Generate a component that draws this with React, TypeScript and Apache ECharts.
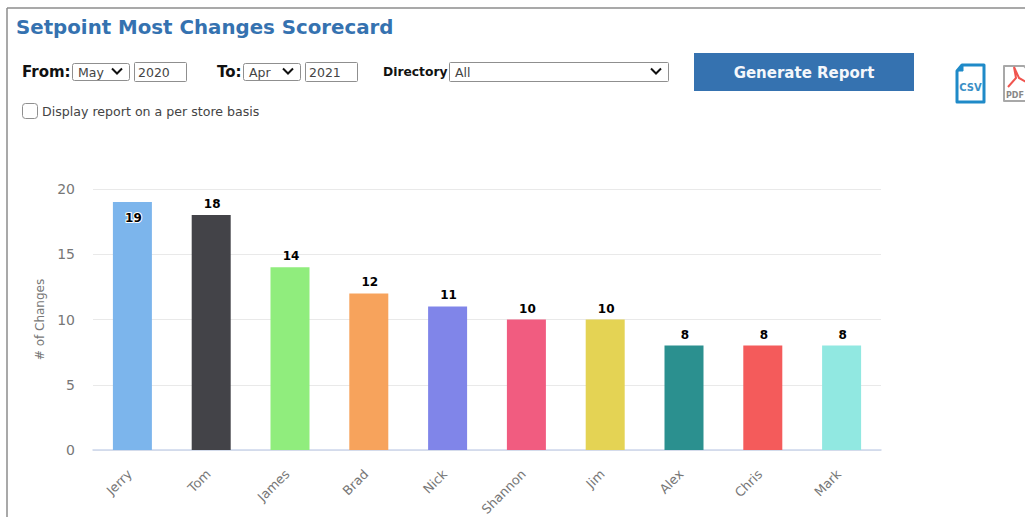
import React, { useEffect, useRef } from "react";
import * as echarts from "echarts";

const categories = ["Jerry", "Tom", "James", "Brad", "Nick", "Shannon", "Jim", "Alex", "Chris", "Mark"];
const changes = [19, 18, 14, 12, 11, 10, 10, 8, 8, 8];
const barColors = ["#7cb5ec", "#434348", "#90ed7d", "#f7a35c", "#8085e9", "#f15c80", "#e4d354", "#2b908f", "#f45b5b", "#91e8e1"];
const yTicks = { min: 0, max: 20, interval: 5 };

const FONT = "DejaVu Sans";
const BLUE = "#3572b0";

const txt = (x: number, y: number, text: string, font: number, weight: string | number, fill: string, extra: any = {}) => ({
  type: "text", x, y, silent: true,
  style: { text, fontSize: font, fontWeight: weight, fontFamily: FONT, fill, textVerticalAlign: "middle", verticalAlign: "middle", ...extra },
});
const box = (x: number, y: number, w: number, h: number, r = 2) => ({
  type: "rect", shape: { x: x + 0.5, y: y + 0.5, width: w, height: h, r }, silent: true,
  style: { fill: "#fff", stroke: "#8f8f8f", lineWidth: 1 },
});
const chevron = (cx: number, cy: number) => ({
  type: "polyline", silent: true,
  shape: { points: [[cx - 5, cy - 2.5], [cx, cy + 2.5], [cx + 5, cy - 2.5]] },
  style: { stroke: "#111", lineWidth: 2, fill: "none" },
});

export default function App() {
  const ref = useRef<HTMLDivElement>(null);
  useEffect(() => {
    document.body.style.margin = "0";
    const chart = echarts.init(ref.current!, null, { renderer: "svg" });
    chart.setOption({
      animation: false,
      backgroundColor: "#fff",
      grid: { left: 93, right: 144, top: 189, bottom: 67, outerBoundsMode: "none" },
      xAxis: {
        type: "category",
        data: categories,
        axisLine: { lineStyle: { color: "#ccd6eb", width: 1.5 } },
        axisTick: { show: false },
        axisLabel: { rotate: 45, color: "#777", fontSize: 12.8, fontFamily: FONT, margin: 19, padding: [0, 4, 0, 0], interval: 0 },
      },
      yAxis: {
        type: "value",
        ...yTicks,
        name: "# of Changes",
        nameLocation: "middle",
        nameGap: 47,
        nameTextStyle: { color: "#777", fontSize: 12, fontFamily: FONT },
        axisLine: { show: false },
        axisTick: { show: false },
        axisLabel: { color: "#777", fontSize: 14, fontFamily: FONT, margin: 18 },
        splitLine: { lineStyle: { color: "#e9e9e9", width: 1 } },
      },
      series: [
        {
          type: "bar",
          barWidth: 39,
          data: changes.map((v, i) => ({
            value: v,
            itemStyle: { color: barColors[i] },
            label: i === 0
              ? { position: "insideTop", distance: 10, textBorderColor: "#fff", textBorderWidth: 2 }
              : { position: "top", distance: 5 },
          })),
          label: { show: true, color: "#000", fontSize: 12, fontWeight: "bold", fontFamily: FONT, offset: [1, 0] },
        },
      ],
      graphic: {
        elements: [
          { type: "line", silent: true, shape: { x1: 7, y1: 8, x2: 1025, y2: 8 }, style: { stroke: "#8c8c8c", lineWidth: 1.5 } },
          { type: "line", silent: true, shape: { x1: 7, y1: 8, x2: 7, y2: 517 }, style: { stroke: "#8c8c8c", lineWidth: 1.5 } },
          txt(16, 27, "Setpoint Most Changes Scorecard", 19.8, "bold", BLUE),
          txt(22, 72, "From:", 15, "bold", "#111"),
          box(72, 63, 57, 17),
          txt(78, 72, "May", 12.5, "normal", "#444"),
          chevron(117, 71),
          box(134, 62, 52, 19, 1),
          txt(138, 72, "2020", 12.5, "normal", "#444"),
          txt(217, 72, "To:", 15, "bold", "#111"),
          box(243, 63, 57, 17),
          txt(249, 72, "Apr", 12.5, "normal", "#444"),
          chevron(288, 71),
          box(305, 62, 52, 19, 1),
          txt(309, 72, "2021", 12.5, "normal", "#444"),
          txt(383, 72, "Directory", 12.3, "bold", "#111"),
          box(449, 62, 219, 19, 1),
          txt(455, 72, "All", 12.5, "normal", "#444"),
          chevron(656, 71),
          { type: "rect", silent: true, shape: { x: 694, y: 53, width: 220, height: 38 }, style: { fill: BLUE } },
          txt(804, 73, "Generate Report", 15, "bold", "#f4f7fb", { textAlign: "center", align: "center" }),
          box(22, 103, 15, 15, 3),
          txt(42, 111, "Display report on a per store basis", 12.6, "normal", "#444"),
          // CSV icon
          { type: "polygon", silent: true, shape: { points: [[962, 65], [984, 65], [984, 102], [957, 102], [957, 71]] }, style: { fill: "#fff", stroke: "#1f8ac8", lineWidth: 3, lineJoin: "round" } },
          { type: "polygon", silent: true, shape: { points: [[957, 71], [963, 71], [963, 65]] }, style: { fill: "#1f8ac8", stroke: "#1f8ac8", lineWidth: 1 } },
          txt(970.5, 87, "CSV", 10, "bold", "#3a8fc6", { textAlign: "center", align: "center" }),
          // PDF icon
          { type: "polygon", silent: true, shape: { points: [[1004, 66], [1024, 66], [1030, 72], [1030, 101], [1004, 101]] }, style: { fill: "#fff", stroke: "#a8a8a8", lineWidth: 2, lineJoin: "round" } },
          { type: "polyline", silent: true, shape: { points: [[1008, 87], [1016, 78], [1014, 67], [1019, 78], [1030, 84]] }, style: { fill: "none", stroke: "#f0554f", lineWidth: 2 } },
          txt(1006, 95, "PDF", 8, "bold", "#888"),
        ],
      },
    });
    return () => chart.dispose();
  }, []);
  return <div ref={ref} style={{ width: 1025, height: 517 }} />;
}
